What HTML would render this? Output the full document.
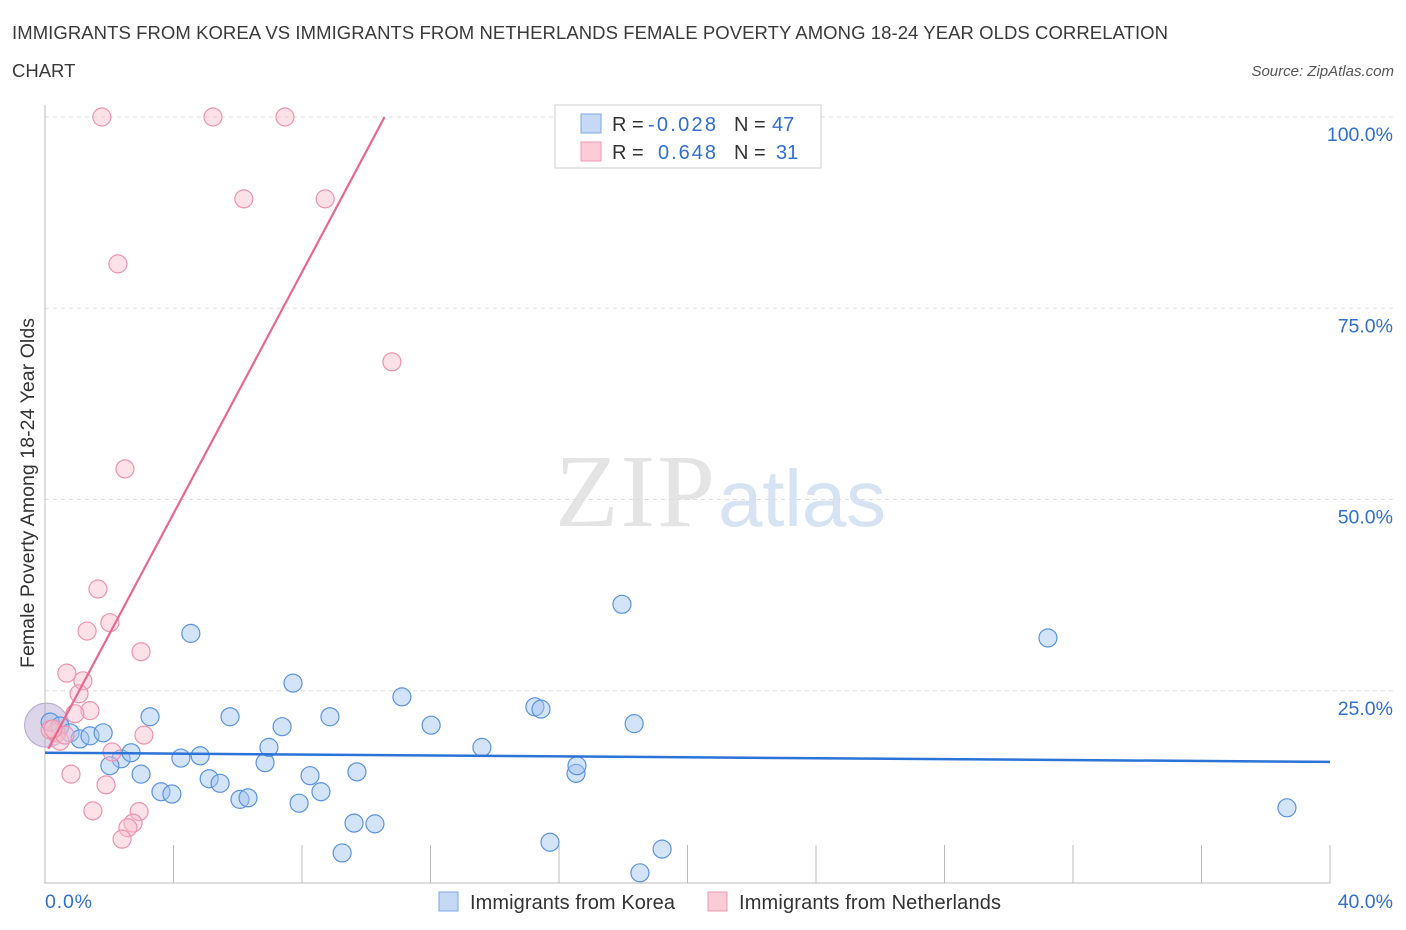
<!DOCTYPE html>
<html><head><meta charset="utf-8"><style>
body{margin:0;background:#fff;font-family:"Liberation Sans",sans-serif}
</style></head><body>
<svg id="c" width="1406" height="930" style="position:absolute;left:0;top:0">
<text x="12" y="39" font-size="18.5" fill="#3a3a3a" textLength="1156">IMMIGRANTS FROM KOREA VS IMMIGRANTS FROM NETHERLANDS FEMALE POVERTY AMONG 18-24 YEAR OLDS CORRELATION</text>
<text x="12" y="77" font-size="18.5" fill="#3a3a3a">CHART</text>
<text x="1394" y="76" font-size="15" fill="#555" font-style="italic" text-anchor="end">Source: ZipAtlas.com</text>
<text x="555" y="526" font-size="104" fill="#e4e4e4" font-family="Liberation Serif" textLength="160">ZIP</text>
<text x="718" y="526" font-size="80" fill="#d6e3f3" textLength="168">atlas</text>
<g id="grid"></g><g id="pts"></g><g id="lines"></g>
<text transform="translate(34,493) rotate(-90)" font-size="19.5" fill="#333" text-anchor="middle" textLength="350">Female Poverty Among 18-24 Year Olds</text>
<text x="45" y="908" font-size="19.5" fill="#2f6fcf" textLength="47">0.0%</text>
<text x="1393" y="908" font-size="19.5" fill="#2f6fcf" text-anchor="end">40.0%</text>
<g>
<rect x="439" y="892" width="19" height="19" fill="#c5d9f5" stroke="#7aa6e6"/>
<text x="470" y="909" font-size="20" fill="#333" textLength="205">Immigrants from Korea</text>
<rect x="708" y="892" width="19" height="19" fill="#f9ccd8" stroke="#ee9ab2"/>
<text x="739" y="909" font-size="20" fill="#333" textLength="262">Immigrants from Netherlands</text>
</g>
<g>
<rect x="555" y="105" width="266" height="63" fill="#fff" stroke="#ccc"/>
<rect x="581" y="114" width="20" height="19" fill="#c5d9f5" stroke="#7aa6e6"/>
<rect x="581" y="142" width="20" height="19" fill="#f9ccd8" stroke="#ee9ab2"/>
<text font-size="20" fill="#333"><tspan x="612" y="131">R =</tspan><tspan x="648" y="131" fill="#2f6fcf" textLength="68">-0.028</tspan><tspan x="734" y="131">N =</tspan><tspan x="772" y="131" fill="#2f6fcf">47</tspan></text>
<text font-size="20" fill="#333"><tspan x="612" y="159">R =</tspan><tspan x="658" y="159" fill="#2f6fcf" textLength="58">0.648</tspan><tspan x="734" y="159">N =</tspan><tspan x="776" y="159" fill="#2f6fcf">31</tspan></text>
</g>
</svg>
<script>
const yTicks=[100,75,50,25];
const yTickLabels=["100.0%","75.0%","50.0%","25.0%"];
const koreaX=[0.16,0.47,0.78,1.09,1.40,1.81,2.37,2.68,2.02,2.99,3.27,3.61,3.95,4.23,4.83,4.54,5.11,5.45,5.76,6.07,6.32,6.85,6.97,7.38,7.72,7.91,8.25,8.59,8.87,9.25,9.62,9.71,10.27,11.11,12.02,13.60,15.25,15.44,15.72,16.53,16.56,17.96,18.34,18.52,19.21,31.22,38.66];
const koreaY=[20.9,20.4,19.5,18.7,19.1,19.5,16.1,16.9,15.2,14.1,21.6,11.8,11.5,16.2,16.5,32.5,13.5,12.9,21.6,10.8,11.0,15.6,17.6,20.3,26.0,10.3,13.9,11.8,21.6,3.8,7.7,14.4,7.6,24.2,20.5,17.6,22.9,22.6,5.2,14.2,15.2,36.3,20.7,1.2,4.3,31.9,9.7];
const nethX=[1.77,5.23,7.47,6.19,8.72,2.27,10.80,2.49,1.65,2.02,1.31,2.99,0.68,1.18,1.06,1.40,0.93,3.08,0.34,0.47,2.09,0.81,1.90,1.49,2.93,2.74,2.58,2.40,0.16,0.62,0.25];
const nethY=[100,100,100,89.3,89.3,80.8,68.0,54.0,38.3,33.9,32.8,30.1,27.3,26.3,24.6,22.4,22.0,19.2,19.5,18.4,17.0,14.1,12.7,9.3,9.2,7.7,7.1,5.6,19.9,19.2,20.0];
const koreaTrend=[16.9,15.7];
const nethTrend=[16.6,7.89];
const NS="http://www.w3.org/2000/svg";
const X=v=>45+v/40*1285, Y=v=>882-v*7.65;
function mk(t,a,p){const e=document.createElementNS(NS,t);for(const k in a)e.setAttribute(k,a[k]);p.appendChild(e);return e;}
const g=document.getElementById('grid');
yTicks.forEach((t,i)=>{
 const l=mk('line',{x1:45,x2:1394,y1:Y(t),y2:Y(t),stroke:'#ddd','stroke-dasharray':'4,4'},g);
 
 
 const tx=mk('text',{x:1393,y:Y(t)+24,'font-size':19.5,fill:'#2f6fcf','text-anchor':'end'},g);
 tx.textContent=yTickLabels[i];
 
 
});
const ax=mk('line',{x1:45,x2:45,y1:105,y2:883,stroke:'#bbb'},g);


const bx=mk('line',{x1:44,x2:1331,y1:883,y2:883,stroke:'#bbb'},g);


for(let i=1;i<=10;i++){const t=mk('line',{x1:X(i*4),x2:X(i*4),y1:845,y2:883,stroke:'#bbb'},g);
 
 }
const p=document.getElementById('pts');
const big=mk('circle',{cx:X(0.05),cy:Y(20.5),r:22,fill:'rgba(170,150,200,0.4)',stroke:'#b8a8d0'},p);


koreaX.forEach((v,i)=>{const c=mk('circle',{cx:X(v),cy:Y(koreaY[i]),r:9,fill:'rgba(160,195,240,0.45)',stroke:'#5b93e0','stroke-width':1.2},p);
 
 });
nethX.forEach((v,i)=>{const c=mk('circle',{cx:X(v),cy:Y(nethY[i]),r:9,fill:'rgba(248,190,205,0.45)',stroke:'#ee92ad','stroke-width':1.2},p);
 
 });
const L=document.getElementById('lines');
const kl=mk('line',{x1:X(0),y1:Y(koreaTrend[0]),x2:X(40),y2:Y(koreaTrend[1]),stroke:'#2b73d6','stroke-width':2.5},L);


const xe=(100-nethTrend[0])/nethTrend[1];
const nl=mk('line',{x1:X(0.1),y1:Y(nethTrend[0]+nethTrend[1]*0.1),x2:X(xe),y2:Y(100),stroke:'#e8678f','stroke-width':2.2},L);


</script>
</body></html>
